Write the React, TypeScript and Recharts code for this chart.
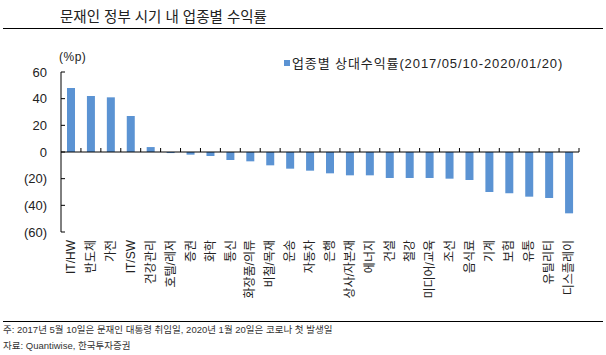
import { BarChart, Bar, XAxis, YAxis, ReferenceLine } from 'recharts';

const sectors = [
  'IT/HW', '반도체', '가전', 'IT/SW', '건강관리', '호텔/레저', '증권', '화학', '통신',
  '화장품/의류', '비철/목재', '운송', '자동차', '은행', '상사/자본재', '에너지', '건설',
  '철강', '미디어/교육', '조선', '음식료', '기계', '보험', '유통', '유틸리티', '디스플레이',
];
const relReturn = [
  48, 42, 41, 27, 3.7, -0.8, -2, -3, -6,
  -7, -10, -12.5, -14, -16, -17.5, -17.5, -19.5,
  -19.5, -19.5, -20, -21, -30, -31, -33.5, -34.5, -46,
];
const yTicks = [60, 40, 20, 0, -20, -40, -60];

const data = sectors.map((name, i) => ({ name, value: relReturn[i] }));

const FONT = "Arial, 'Liberation Sans', 'Noto Sans CJK KR', sans-serif";
const BLUE = '#5B93D3';

// plot box (px inside the 606x355 frame)
const PLOT_LEFT = 61;
const PLOT_RIGHT = 579;
const PLOT_TOP = 72;
const PLOT_H = 160;
const ZERO_Y = PLOT_TOP + PLOT_H / 2;
const BAND = (PLOT_RIGHT - PLOT_LEFT) / sectors.length;

function fmt(v: number) {
  return v < 0 ? `(${-v})` : `${v}`;
}

function XTick({ x, y, payload }: any) {
  return (
    <g>
      <line x1={x + BAND / 2} x2={x + BAND / 2} y1={ZERO_Y} y2={ZERO_Y - 4} stroke="#000" />
      <text
        x={x}
        y={y}
        dy="0.35em"
        transform={`rotate(-90, ${x}, ${y})`}
        textAnchor="end"
        fontSize={12}
        fontFamily={FONT}
        fill="#222"
      >
        {payload.value}
      </text>
    </g>
  );
}

function YTick({ x, y, payload }: any) {
  return (
    <g>
      <line x1={PLOT_LEFT} x2={PLOT_LEFT + 4} y1={y} y2={y} stroke="#000" />
      <text x={x} y={y} dy="0.35em" textAnchor="end" fontSize={13} fontFamily={FONT} fill="#222">
        {fmt(payload.value)}
      </text>
    </g>
  );
}

export default function App() {
  return (
    <div
      style={{
        position: 'absolute',
        top: 0,
        left: 0,
        width: 606,
        height: 355,
        background: '#fff',
        fontFamily: FONT,
        color: '#222',
        overflow: 'hidden',
      }}
    >
      <div style={{ position: 'absolute', left: 60, top: 5, fontSize: 14.5, whiteSpace: 'nowrap' }}>
        문재인 정부 시기 내 업종별 수익률
      </div>
      <div style={{ position: 'absolute', left: 3, top: 28, width: 600, height: 1, background: '#000' }} />
      <div style={{ position: 'absolute', left: 59, top: 50, fontSize: 12, letterSpacing: 0.5 }}>(%p)</div>

      <BarChart
        width={606}
        height={355}
        data={data}
        margin={{ top: PLOT_TOP, right: 606 - PLOT_RIGHT, bottom: 63, left: PLOT_LEFT - 50 }}
      >
        <YAxis
          width={50}
          domain={[-60, 60]}
          ticks={yTicks}
          interval={0}
          axisLine={{ stroke: '#000' }}
          tickLine={false}
          tickSize={0}
          tickMargin={14}
          tick={<YTick />}
        />
        <XAxis
          dataKey="name"
          height={60}
          interval={0}
          axisLine={false}
          tickLine={false}
          tick={<XTick />}
        />
        <ReferenceLine y={0} stroke="#000" />
        <Bar dataKey="value" name="업종별 상대수익률(2017/05/10-2020/01/20)" fill={BLUE} barSize={8} isAnimationActive={false} />
      </BarChart>

      <div style={{ position: 'absolute', left: 284, top: 53, fontSize: 13, letterSpacing: 0.9, whiteSpace: 'nowrap', display: 'flex', alignItems: 'center' }}>
        <span style={{ display: 'inline-block', width: 6, height: 6, background: BLUE, marginRight: 2 }} />
        업종별 상대수익률(2017/05/10-2020/01/20)
      </div>

      <div style={{ position: 'absolute', left: 3, top: 321, width: 600, height: 1, background: '#000' }} />
      <div style={{ position: 'absolute', left: 3, top: 322, fontSize: 9.5, color: '#333', whiteSpace: 'nowrap' }}>
        주: 2017년 5월 10일은 문재인 대통령 취임일, 2020년 1월 20일은 코로나 첫 발생일
      </div>
      <div style={{ position: 'absolute', left: 3, top: 338, fontSize: 9.5, color: '#333', whiteSpace: 'nowrap' }}>
        자료: Quantiwise, 한국투자증권
      </div>
    </div>
  );
}
